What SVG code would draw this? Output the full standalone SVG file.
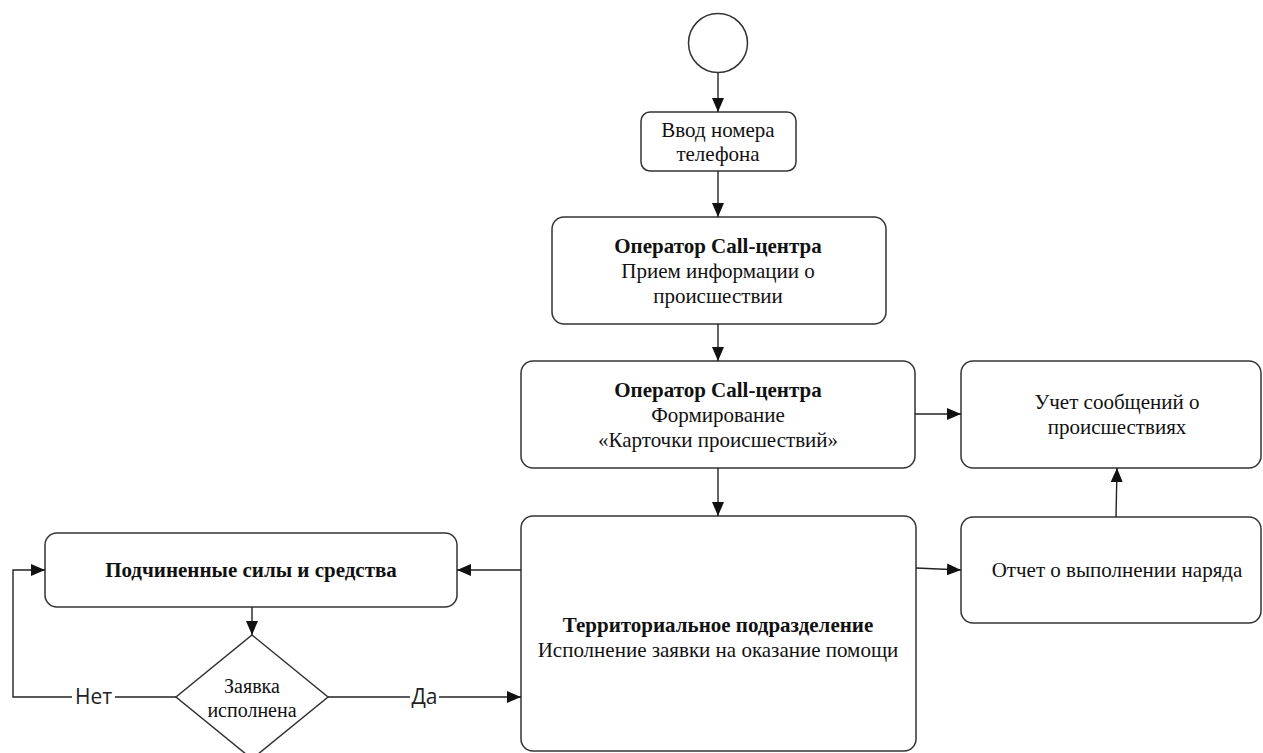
<svg xmlns="http://www.w3.org/2000/svg" width="1263" height="753" viewBox="0 0 1263 753">
<defs>
<marker id="ah" viewBox="0 0 14 12" refX="14" refY="6" markerWidth="14" markerHeight="12" markerUnits="userSpaceOnUse" orient="auto"><path d="M0,0 L14,6 L0,12 z" fill="#111"/></marker>
<style>
.n{fill:#fff;stroke:#333;stroke-width:1.5}
.t{font-family:"Liberation Serif","Times New Roman",serif;font-size:21px;fill:#111;text-anchor:middle;dominant-baseline:central}
.b{font-weight:bold}
.s{font-family:"Open Sans","Noto Sans",sans-serif;font-size:21px;fill:#222;text-anchor:middle;dominant-baseline:central}
.c{fill:none;stroke:#222;stroke-width:1.4}
.a{marker-end:url(#ah)}
</style>
</defs>
<rect width="1263" height="753" fill="#fff"/>
<g id="start"><circle class="n" cx="718" cy="43" r="29.5"/></g>
<g id="n1"><rect class="n" x="641" y="112" width="155" height="59" rx="9"/>
<text class="t" x="718" y="130">Ввод номера</text><text class="t" x="718" y="154">телефона</text></g>
<g id="n2"><rect class="n" x="552" y="217" width="334" height="107" rx="12"/>
<text class="t b" x="718" y="246">Оператор Call-центра</text><text class="t" x="718" y="271">Прием информации о</text><text class="t" x="718" y="296">происшествии</text></g>
<g id="n3"><rect class="n" x="521" y="361" width="394" height="107" rx="12"/>
<text class="t b" x="718" y="390">Оператор Call-центра</text><text class="t" x="718" y="415">Формирование</text><text class="t" x="718" y="440">«Карточки происшествий»</text></g>
<g id="n4"><rect class="n" x="961" y="361" width="300" height="107" rx="12"/>
<text class="t" x="1117" y="402">Учет сообщений о</text><text class="t" x="1117" y="427">происшествиях</text></g>
<g id="n5"><rect class="n" x="961" y="517" width="300" height="106" rx="12"/>
<text class="t" x="1117" y="570">Отчет о выполнении наряда</text></g>
<g id="n6"><rect class="n" x="521" y="516" width="395" height="235" rx="12"/>
<text class="t b" x="718" y="625">Территориальное подразделение</text><text class="t" x="718" y="650">Исполнение заявки на оказание помощи</text></g>
<g id="n7"><rect class="n" x="45" y="533" width="412" height="74" rx="12"/>
<text class="t b" x="251" y="570">Подчиненные силы и средства</text></g>
<g id="n8"><path class="n" d="M252,635 L328,697 L252,759 L176,697 z"/>
<text class="t" x="252" y="686" style="font-size:20px">Заявка</text><text class="t" x="252" y="710" style="font-size:20px">исполнена</text></g>
<g id="connectors">
<line class="c a" x1="718" y1="73" x2="718" y2="112"/>
<line class="c a" x1="718" y1="171" x2="718" y2="217"/>
<line class="c a" x1="718" y1="324" x2="718" y2="361"/>
<line class="c a" x1="718" y1="468" x2="718" y2="516"/>
<line class="c a" x1="915" y1="414" x2="961" y2="414"/>
<line class="c a" x1="1116" y1="517" x2="1117" y2="468"/>
<line class="c a" x1="916" y1="568" x2="961" y2="570"/>
<line class="c a" x1="521" y1="570" x2="457" y2="570"/>
<line class="c a" x1="252" y1="607" x2="252" y2="635"/>
<path class="c" d="M176,697 L115,697"/>
<path class="c a" d="M72,697 L13,697 L13,570 L45,570"/>
<path class="c" d="M328,697 L410,697"/>
<line class="c a" x1="439" y1="697" x2="521" y2="697"/>
<text class="s" x="93.5" y="696">Нет</text>
<text class="s" x="424.5" y="696">Да</text>
</g>
</svg>
